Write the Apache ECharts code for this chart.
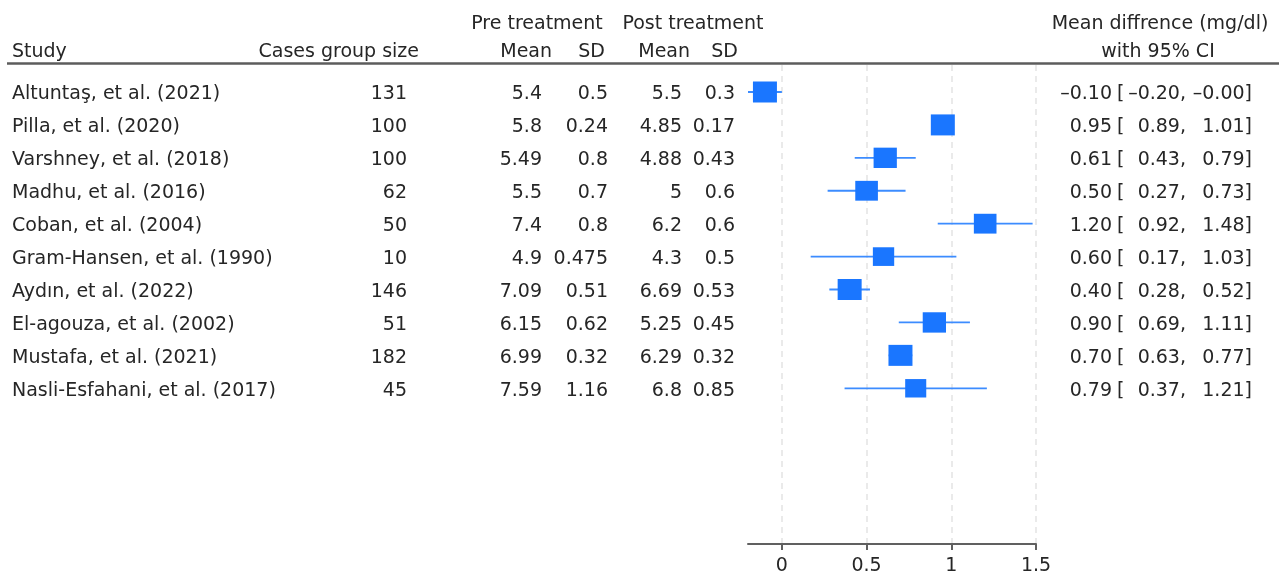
<!DOCTYPE html>
<html>
<head>
<meta charset="utf-8">
<script src="https://cdn.jsdelivr.net/npm/echarts@6/dist/echarts.min.js"></script>
<style>
html,body{margin:0;padding:0;background:#fff;}
#chart{width:1279px;height:576px;}
</style>
</head>
<body>
<div id="chart"></div>
<script>
// ---- data ----
const studies = ["Altuntaş, et al. (2021)", "Pilla, et al. (2020)", "Varshney, et al. (2018)", "Madhu, et al. (2016)", "Coban, et al. (2004)", "Gram-Hansen, et al. (1990)", "Aydın, et al. (2022)", "El-agouza, et al. (2002)", "Mustafa, et al. (2021)", "Nasli-Esfahani, et al. (2017)"];
const caseSizes = [131, 100, 100, 62, 50, 10, 146, 51, 182, 45];
const preMean = [5.4, 5.8, 5.49, 5.5, 7.4, 4.9, 7.09, 6.15, 6.99, 7.59];
const preSD = [0.5, 0.24, 0.8, 0.7, 0.8, 0.475, 0.51, 0.62, 0.32, 1.16];
const postMean = [5.5, 4.85, 4.88, 5, 6.2, 4.3, 6.69, 5.25, 6.29, 6.8];
const postSD = [0.3, 0.17, 0.43, 0.6, 0.6, 0.5, 0.53, 0.45, 0.32, 0.85];
const meanDiff = [-0.10, 0.95, 0.61, 0.50, 1.20, 0.60, 0.40, 0.90, 0.70, 0.79];
const ciLower = [-0.20, 0.89, 0.43, 0.27, 0.92, 0.17, 0.28, 0.69, 0.63, 0.37];
const ciUpper = [-0, 1.01, 0.79, 0.73, 1.48, 1.03, 0.52, 1.11, 0.77, 1.21];
const weights = [1.0, 1.0, 0.94, 0.89, 0.89, 0.79, 1.0, 0.94, 1.0, 0.77];
const xTicks = [0, 0.5, 1, 1.5];

// ---- helpers ----
const FONT = '"DejaVu Sans", sans-serif';
const TXT = '#262626';
const DY = 2.5;
function fmt2(v) {
  const neg = v < 0 || Object.is(v, -0);
  return (neg ? '\u2013' : '') + Math.abs(v).toFixed(2);
}
function txt(x, y, s, align) {
  return { type: 'text', x: x, y: y + DY, style: { text: s, fill: TXT, font: '19px ' + FONT, textAlign: align || 'left', textVerticalAlign: 'middle' } };
}

const rowIdx = studies.map((_, i) => i);

const chart = echarts.init(document.getElementById('chart'), null, { renderer: 'canvas' });
chart.setOption({
  animation: false,
  backgroundColor: '#fff',
  grid: { left: 748, right: 243, top: 65, bottom: 31, containLabel: false },
  xAxis: {
    type: 'value', min: -0.2, max: 1.5, position: 'bottom',
    axisLine: { show: true, onZero: false, lineStyle: { color: '#606060', width: 2 } },
    axisTick: { show: true, customValues: xTicks, length: 6, lineStyle: { color: '#606060', width: 2 } },
    axisLabel: { customValues: xTicks, fontSize: 19, fontFamily: FONT, color: TXT, margin: 13 },
    splitLine: { show: true, lineStyle: { color: '#e4e4e4', width: 1.5, type: [6, 5] } }
  },
  yAxis: { type: 'value', min: -0.82, max: 13.73, inverse: true, show: false, splitLine: { show: false } },
  graphic: [
    { type: 'line', shape: { x1: 7, y1: 63.5, x2: 1279, y2: 63.5 }, style: { stroke: '#5c5c5c', lineWidth: 2.5 } },
    txt(12, 50, 'Study'),
    txt(419, 50, 'Cases group size', 'right'),
    txt(537, 22, 'Pre treatment', 'center'),
    txt(552, 50, 'Mean', 'right'),
    txt(605, 50, 'SD', 'right'),
    txt(693, 22, 'Post treatment', 'center'),
    txt(690, 50, 'Mean', 'right'),
    txt(738, 50, 'SD', 'right'),
    txt(1160, 22, 'Mean diffrence (mg/dl)', 'center'),
    txt(1158, 50, 'with 95% CI', 'center')
  ],
  series: [
    {
      type: 'custom', name: 'ci', clip: false, z: 2,
      data: rowIdx.map(i => [ciLower[i], ciUpper[i], i]),
      encode: { x: [0, 1], y: 2 },
      renderItem: function (params, api) {
        const a = api.coord([api.value(0), api.value(2)]);
        const b = api.coord([api.value(1), api.value(2)]);
        return { type: 'line', shape: { x1: a[0], y1: a[1], x2: b[0], y2: b[1] }, style: { stroke: '#3c8cff', lineWidth: 1.8 } };
      }
    },
    {
      type: 'scatter', name: 'est', z: 3,
      data: rowIdx.map(i => [meanDiff[i], i, weights[i]]),
      symbol: 'rect',
      symbolSize: function (val) { const s = Math.sqrt(val[2]); return [24 * s, 21 * s]; },
      itemStyle: { color: '#1a76ff', opacity: 1 }
    },
    {
      type: 'custom', name: 'table', clip: false, z: 5, silent: true,
      data: rowIdx.map(i => [0, i]),
      encode: { x: 0, y: 1 },
      renderItem: function (params, api) {
        const i = params.dataIndex;
        const y = api.coord([0, api.value(1)])[1];
        return {
          type: 'group',
          children: [
            txt(12, y, studies[i]),
            txt(407, y, String(caseSizes[i]), 'right'),
            txt(542, y, String(preMean[i]), 'right'),
            txt(608, y, String(preSD[i]), 'right'),
            txt(682, y, String(postMean[i]), 'right'),
            txt(735, y, String(postSD[i]), 'right'),
            txt(1112, y, fmt2(meanDiff[i]), 'right'),
            txt(1117, y, '['),
            txt(1186, y, fmt2(ciLower[i]) + ',', 'right'),
            txt(1252, y, fmt2(ciUpper[i]) + ']', 'right')
          ]
        };
      }
    }
  ]
});
</script>
</body>
</html>
